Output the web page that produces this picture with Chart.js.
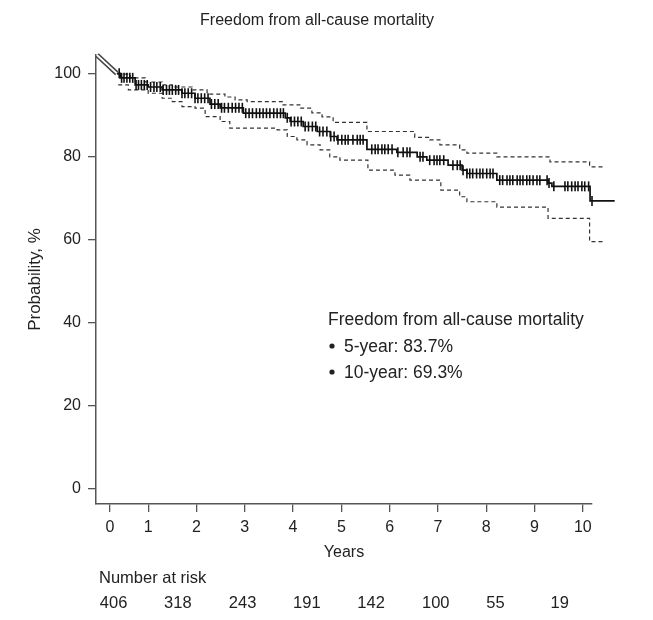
<!DOCTYPE html>
<html>
<head>
<meta charset="utf-8">
<script src="https://cdn.jsdelivr.net/npm/chart.js@4.4.1/dist/chart.umd.min.js"></script>
<style>
  html, body { margin: 0; padding: 0; background: #fff; }
  #wrap { width: 653px; height: 620px; }
</style>
</head>
<body>
<div id="wrap"><canvas id="km" width="653" height="620"></canvas></div>
<script>
// Kaplan-Meier estimate (years, %)
const stepTimes = [0.35, 0.42, 0.73, 1.00, 1.29, 1.70, 1.97, 2.28, 2.49, 2.97, 3.84, 3.94, 4.21, 4.50, 4.77, 4.91, 5.53, 6.15, 6.57, 6.77, 7.21, 7.50, 7.60, 8.22, 9.28, 9.36, 10.15, 10.66];
const stepValues = [100, 98.9, 97.2, 96.7, 96.0, 95.2, 94.0, 92.6, 91.7, 90.4, 89.3, 88.4, 87.2, 86.0, 84.8, 84.0, 81.7, 81.0, 79.9, 79.1, 77.9, 76.7, 75.9, 74.3, 73.6, 72.8, 69.3, 69.3];

// 95% confidence band
const upperTimes = [0.36, 0.63, 0.94, 1.29, 1.50, 1.91, 2.22, 2.59, 2.80, 3.05, 3.79, 4.14, 4.39, 4.60, 4.83, 5.53, 6.52, 6.83, 7.04, 7.45, 7.60, 8.22, 9.32, 10.14, 10.41];
const upperValues = [99.8, 98.9, 97.9, 97.2, 96.7, 96.0, 95.0, 94.3, 93.6, 93.2, 92.4, 91.6, 90.5, 89.5, 88.2, 86.0, 84.6, 84.0, 82.8, 81.6, 80.8, 79.9, 78.7, 77.5, 77.5];
const lowerTimes = [0.38, 0.59, 1.00, 1.29, 1.50, 1.70, 1.97, 2.18, 2.49, 2.69, 3.67, 3.88, 4.08, 4.29, 4.56, 4.76, 4.97, 5.55, 6.11, 6.42, 7.06, 7.45, 7.60, 8.22, 9.28, 10.14, 10.41];
const lowerValues = [97.2, 96.0, 95.2, 94.0, 93.2, 92.0, 91.6, 89.6, 88.4, 86.8, 86.4, 84.8, 84.0, 82.8, 81.6, 79.9, 79.1, 76.7, 75.5, 74.3, 71.9, 70.3, 69.1, 67.8, 65.1, 59.5, 59.5];

// censored observations (years)
const censorTimes = [
  0.40, 0.45, 0.50, 0.56, 0.62, 0.68, 0.75, 0.80, 0.86, 0.92, 0.98, 1.05, 1.12, 1.18, 1.25, 1.31, 1.38, 1.44,
  1.50, 1.57, 1.63, 1.70, 1.76, 1.83, 1.90, 1.97, 2.03, 2.10, 2.17, 2.24, 2.31, 2.38, 2.45, 2.52, 2.58, 2.66,
  2.74, 2.81, 2.88, 2.95, 3.02, 3.09, 3.16, 3.24, 3.31, 3.38, 3.45, 3.52, 3.60, 3.67, 3.74, 3.80, 3.88, 3.96,
  4.03, 4.10, 4.17, 4.25, 4.32, 4.40, 4.47, 4.55, 4.62, 4.70, 4.78, 4.85,
  4.93, 5.01, 5.08, 5.14, 5.24, 5.33, 5.39, 5.45, 5.63, 5.70, 5.76, 5.84, 5.90, 5.97, 6.05,
  6.17, 6.28, 6.36, 6.42, 6.63, 6.69, 6.83, 6.92, 6.98, 7.04, 7.12, 7.31, 7.40, 7.46, 7.52, 7.60,
  7.66, 7.72, 7.80, 7.87, 7.93, 8.01, 8.08, 8.14, 8.28, 8.34, 8.43, 8.49, 8.55, 8.64, 8.70, 8.76,
  8.84, 8.90, 8.97, 9.05, 9.11, 9.26, 9.30, 9.40, 9.63, 9.69, 9.77, 9.84, 9.90, 9.98, 10.04, 10.12,
  10.19, 10.27, 10.40, 10.45, 10.50, 10.55
];

// short double line at the start of the curve
const leadTimes = [-0.06, 0.35];
const leadValues = [104.4, 100];

const yTicks = [0, 20, 40, 60, 80, 100];
const xTickPositions = [0.21, 1, 2, 3, 4, 5, 6, 7, 8, 9, 10];
const xTickLabels = ['0', '1', '2', '3', '4', '5', '6', '7', '8', '9', '10'];

const riskTimes = [0, 1.33, 2.67, 4, 5.33, 6.67, 8, 9.33];
const riskCounts = [406, 318, 243, 191, 142, 100, 55, 19];

const chartTitle = 'Freedom from all-cause mortality';
const noteTitle = 'Freedom from all-cause mortality';
const noteLines = ['5-year: 83.7%', '10-year: 69.3%'];

const FONT = "'Liberation Sans', Arial, Helvetica, sans-serif";
const TEXT = '#222';
const AXIS = '#555';

function toPoints(xs, ys) {
  return xs.map((x, i) => ({ x: x, y: ys[i] }));
}

function stepValueAt(t) {
  let v = stepValues[0];
  for (let i = 0; i < stepTimes.length; i++) {
    if (stepTimes[i] <= t) v = stepValues[i];
  }
  return v;
}

const textPlugin = {
  id: 'kmText',
  afterDraw(chart) {
    const ctx = chart.ctx;
    const xs = chart.scales.x;
    ctx.save();
    ctx.fillStyle = TEXT;
    ctx.textBaseline = 'alphabetic';

    ctx.font = '16px ' + FONT;
    ctx.textAlign = 'center';
    ctx.fillText(chartTitle, 317, 25);

    ctx.font = '17.5px ' + FONT;
    ctx.textAlign = 'left';
    ctx.fillText(noteTitle, 328, 325);
    noteLines.forEach((line, i) => {
      const base = 352 + i * 26;
      ctx.beginPath();
      ctx.arc(332, base - 6, 2.6, 0, Math.PI * 2);
      ctx.fill();
      ctx.fillText(line, 344, base);
    });

    ctx.font = '16.5px ' + FONT;
    ctx.fillText('Number at risk', 99, 583);
    riskCounts.forEach((n, i) => {
      ctx.fillText(String(n), xs.getPixelForValue(riskTimes[i]), 608);
    });
    ctx.restore();
  }
};

const axisFont = { family: FONT, size: 16 };

// Chart.js paints dataset 0 last, so the list runs from top layer to bottom layer
new Chart(document.getElementById('km'), {
  type: 'line',
  data: {
    datasets: [
      {
        data: toPoints(leadTimes, leadValues),
        borderColor: '#fff', borderWidth: 1.8, pointRadius: 0, clip: false
      },
      {
        data: toPoints(leadTimes, leadValues),
        borderColor: '#444', borderWidth: 5, pointRadius: 0, clip: false
      },
      {
        data: censorTimes.map(t => ({ x: t, y: stepValueAt(t) })),
        showLine: false, pointStyle: 'line', rotation: 90, pointRadius: 5,
        borderColor: '#111', borderWidth: 1.6, clip: false
      },
      {
        data: toPoints(stepTimes, stepValues),
        stepped: 'before', borderColor: '#111', borderWidth: 1.7, pointRadius: 0, clip: false
      },
      {
        data: toPoints(upperTimes, upperValues),
        stepped: 'before', borderColor: '#333', borderWidth: 1.2, borderDash: [4, 3], pointRadius: 0, clip: false
      },
      {
        data: toPoints(lowerTimes, lowerValues),
        stepped: 'before', borderColor: '#333', borderWidth: 1.2, borderDash: [4, 3], pointRadius: 0, clip: false
      }
    ]
  },
  options: {
    responsive: false,
    devicePixelRatio: 1,
    animation: false,
    layout: { padding: { left: 0, right: 61, top: 55, bottom: 54 } },
    plugins: {
      legend: { display: false },
      tooltip: { enabled: false },
      title: { display: false }
    },
    scales: {
      x: {
        type: 'linear',
        min: -0.08,
        max: 10.19,
        afterBuildTicks: function(scale) {
          scale.ticks = xTickPositions.map(v => ({ value: v }));
        },
        afterFit: function(scale) { scale.height = 62; },
        ticks: {
          autoSkip: false, maxRotation: 0, padding: 6, color: TEXT, font: axisFont,
          callback: function(value, index) { return xTickLabels[index]; }
        },
        grid: { drawOnChartArea: false, tickLength: 8, color: AXIS, lineWidth: 1.3 },
        border: { display: true, color: AXIS, width: 1.5 },
        title: { display: true, text: 'Years', color: TEXT, font: axisFont, padding: { top: 0, bottom: 4 } }
      },
      y: {
        type: 'linear',
        min: -3.6,
        max: 104.4,
        afterBuildTicks: function(scale) {
          scale.ticks = yTicks.map(v => ({ value: v }));
        },
        afterFit: function(scale) { scale.width = 96; },
        ticks: { padding: 7, color: TEXT, font: axisFont },
        grid: { drawOnChartArea: false, tickLength: 8, color: AXIS, lineWidth: 1.3 },
        border: { display: true, color: AXIS, width: 1.5 },
        title: { display: true, text: 'Probability, %', color: TEXT, font: { family: FONT, size: 17 }, padding: { top: 25, bottom: 0 } }
      }
    }
  },
  plugins: [textPlugin]
});
</script>
</body>
</html>
